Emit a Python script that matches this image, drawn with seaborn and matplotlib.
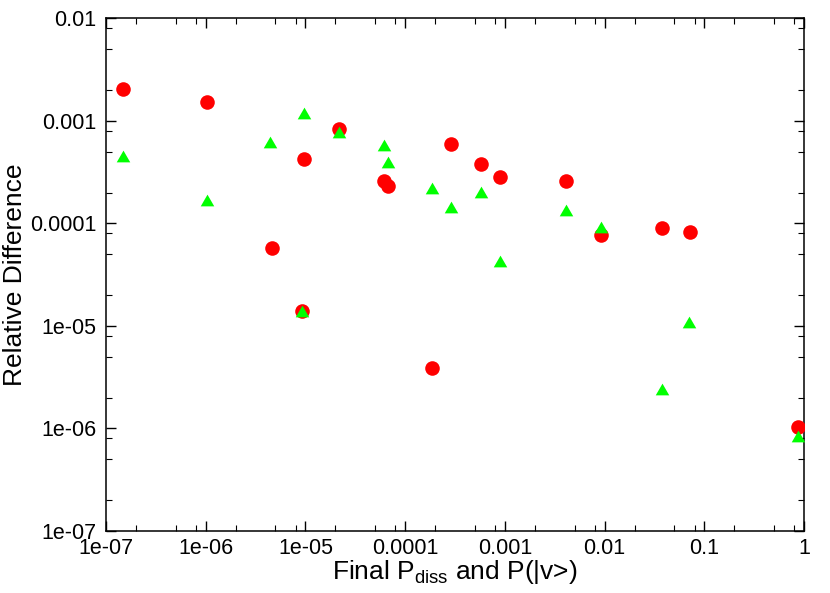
import numpy as np
import pandas as pd
import matplotlib
matplotlib.use("Agg")
import matplotlib.pyplot as plt
from matplotlib.path import Path
from matplotlib.ticker import LogLocator, FixedLocator, FixedFormatter, NullFormatter
import seaborn as sns

# ---- data ----
red_x = [1.47e-7, 1.04e-6, 4.59e-6, 9.7e-6, 2.17e-5, 6.14e-5, 6.79e-5, 9.25e-6,
         2.87e-4, 5.73e-4, 9.0e-4, 4.08e-3, 9.3e-3, 3.8e-2, 7.2e-2, 1.87e-4, 0.867]
red_y = [2.05e-3, 1.52e-3, 5.73e-5, 4.25e-4, 8.3e-4, 2.6e-4, 2.32e-4, 1.41e-5,
         5.96e-4, 3.78e-4, 2.84e-4, 2.58e-4, 7.7e-5, 9.1e-5, 8.2e-5, 3.85e-6, 1.03e-6]
green_x = [1.47e-7, 1.04e-6, 4.45e-6, 9.7e-6, 2.17e-5, 6.14e-5, 6.7e-5, 9.25e-6,
           1.87e-4, 2.87e-4, 5.73e-4, 9.0e-4, 4.08e-3, 9.3e-3, 3.8e-2, 7.0e-2, 0.867]
green_y = [4.58e-4, 1.68e-4, 6.23e-4, 1.2e-3, 7.74e-4, 5.82e-4, 3.95e-4, 1.41e-5,
           2.23e-4, 1.44e-4, 2.03e-4, 4.34e-5, 1.36e-4, 9.3e-5, 2.44e-6, 1.09e-5, 8.36e-7]

x_ticks = [1e-7, 1e-6, 1e-5, 1e-4, 1e-3, 1e-2, 1e-1, 1]
x_tick_labels = ["1e-07", "1e-06", "1e-05", "0.0001", "0.001", "0.01", "0.1", "1"]
y_ticks = [1e-7, 1e-6, 1e-5, 1e-4, 1e-3, 1e-2]
y_tick_labels = ["1e-07", "1e-06", "1e-05", "0.0001", "0.001", "0.01"]

sns.set_theme(style="ticks")
plt.rcParams["font.family"] = ["Liberation Sans", "DejaVu Sans"]
plt.rcParams["mathtext.fontset"] = "custom"
plt.rcParams["mathtext.rm"] = "Liberation Sans"
plt.rcParams["mathtext.it"] = "Liberation Sans:italic"
plt.rcParams["text.color"] = "black"
plt.rcParams["axes.labelcolor"] = "black"
plt.rcParams["xtick.color"] = "black"
plt.rcParams["ytick.color"] = "black"

df_red = pd.DataFrame({"x": red_x, "y": red_y})
df_green = pd.DataFrame({"x": green_x, "y": green_y})

fig = plt.figure(figsize=(8.3, 5.93), dpi=100)
ax = fig.add_axes([0.1277, 0.1045, 0.8410, 0.8646])

tri = Path([(-1, -0.866), (1, -0.866), (0, 0.866), (-1, -0.866)],
           [Path.MOVETO, Path.LINETO, Path.LINETO, Path.CLOSEPOLY])

sns.scatterplot(data=df_red, x="x", y="y", ax=ax, color="#ff0000", marker="o",
                s=110, linewidth=0, zorder=3)
sns.scatterplot(data=df_green, x="x", y="y", ax=ax, color="#00ff00", marker=tri,
                s=95, linewidth=0, zorder=4)

ax.set_xscale("log")
ax.set_yscale("log")
ax.set_xlim(1e-7, 1)
ax.set_ylim(1e-7, 1e-2)

ax.xaxis.set_major_locator(FixedLocator(x_ticks))
ax.xaxis.set_major_formatter(FixedFormatter(x_tick_labels))
ax.yaxis.set_major_locator(FixedLocator(y_ticks))
ax.yaxis.set_major_formatter(FixedFormatter(y_tick_labels))
ax.xaxis.set_minor_locator(LogLocator(base=10, subs=[2, 5, 8], numticks=20))
ax.yaxis.set_minor_locator(LogLocator(base=10, subs=[2, 5, 8], numticks=20))
ax.xaxis.set_minor_formatter(NullFormatter())
ax.yaxis.set_minor_formatter(NullFormatter())

ax.tick_params(which="both", direction="in", top=True, right=True,
               color="black", labelcolor="black")
ax.tick_params(which="major", length=7, width=1.0, labelsize=15.5, pad=5)
ax.tick_params(which="minor", length=4, width=0.8)
ax.tick_params(axis="y", which="major", pad=7)

for sp in ax.spines.values():
    sp.set_color("black")
    sp.set_linewidth(1.1)

ax.set_xlabel(r"Final P$_{\mathrm{diss}}$ and P(|v>)", fontsize=19, labelpad=-1,
              color="black")
ax.set_ylabel("Relative Difference", fontsize=19, labelpad=2, color="black")
ax.grid(False)

fig.savefig("out.png", dpi=100)
